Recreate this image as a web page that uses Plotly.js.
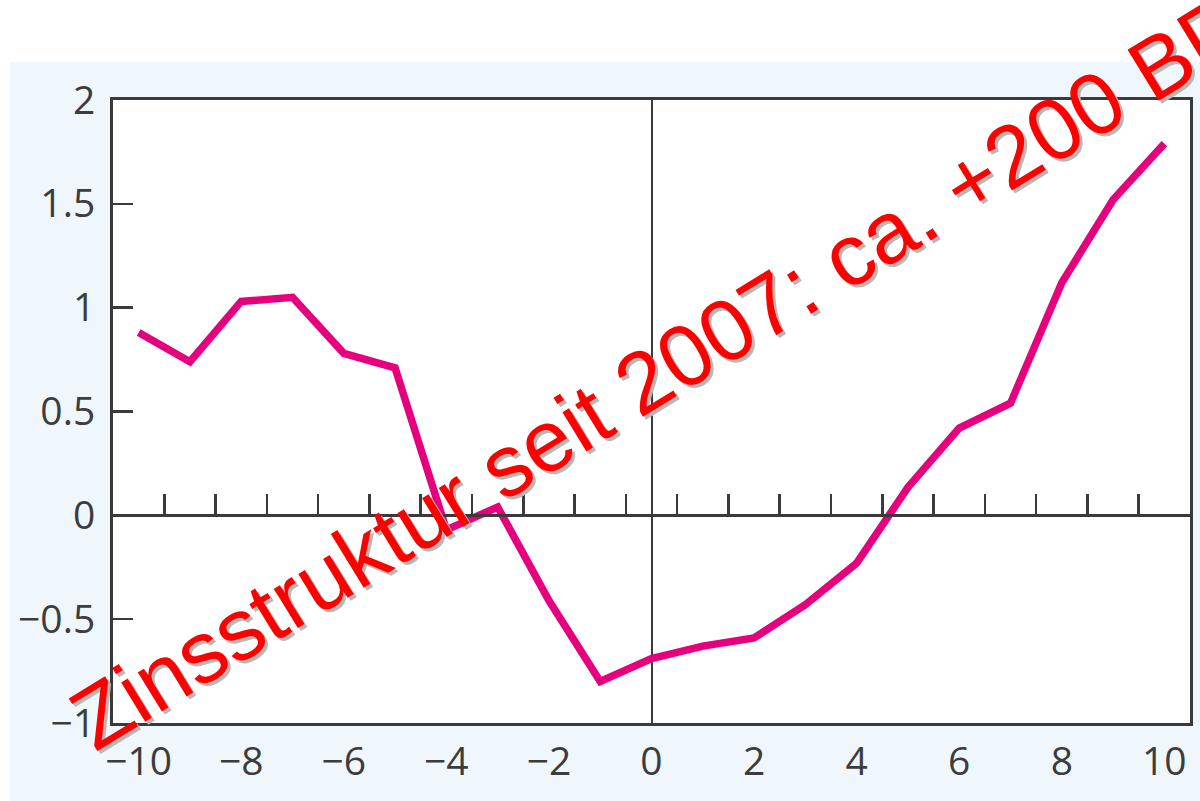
<!DOCTYPE html>
<html>
<head>
<meta charset="utf-8">
<script src="https://cdn.plot.ly/plotly-3.0.1.min.js"></script>
<style>html,body{margin:0;padding:0;background:#fff;}#chart{width:1200px;height:801px;}</style>
</head>
<body>
<div id="chart"></div>
<script>
var years = [-10,-9,-8,-7,-6,-5,-4,-3,-2,-1,0,1,2,3,4,5,6,7,8,9,10];
var values = [0.88,0.74,1.03,1.05,0.78,0.71,-0.07,0.04,-0.41,-0.80,-0.69,-0.63,-0.59,-0.43,-0.23,0.135,0.42,0.54,1.12,1.52,1.79];
var xTickVals = [-10,-8,-6,-4,-2,0,2,4,6,8,10];
var yTickVals = [-1,-0.5,0,0.5,1,1.5,2];
var yTickText = ['\u22121','\u22120.5','0','0.5','1','1.5','2'];
var xTickText = ['\u221210','\u22128','\u22126','\u22124','\u22122','0','2','4','6','8','10'];
var midTicks = [-9.5,-8.5,-7.5,-6.5,-5.5,-4.5,-3.5,-2.5,-1.5,-0.5,0.5,1.5,2.5,3.5,4.5,5.5,6.5,7.5,8.5,9.5];
var label = 'Zinsstruktur seit 2007: ca. +200 BP';

var frameColor = '#3a3a3a';
var tickFont = {family: 'Open Sans, Noto Sans, sans-serif', size: 39, color: '#3c3c3c'};

var traces = [
  {x: years, y: values, xaxis: 'x2', yaxis: 'y', mode: 'lines',
   line: {color: 'rgba(0,0,0,0)', width: 1}, hoverinfo: 'skip', showlegend: false},
  {x: years, y: values, xaxis: 'x', yaxis: 'y', mode: 'lines',
   line: {color: '#e6007e', width: 7.5}, showlegend: false}
];

var xr = [-10.5, 10.5];
var layout = {
  width: 1200, height: 801,
  margin: {l: 113, r: 10, t: 100, b: 78},
  paper_bgcolor: '#ffffff',
  plot_bgcolor: 'rgba(0,0,0,0)',
  showlegend: false,
  xaxis: {
    range: xr, tickvals: xTickVals, ticktext: xTickText, ticks: '',
    showgrid: false, zeroline: true, zerolinecolor: frameColor, zerolinewidth: 2,
    showline: true, mirror: true, linecolor: frameColor, linewidth: 3,
    tickfont: tickFont, ticklabelstandoff: 2
  },
  xaxis2: {
    range: xr, overlaying: 'x', anchor: 'free', position: 1/3, side: 'bottom',
    tickvals: midTicks, ticks: 'inside', ticklen: 20, tickwidth: 2.5, tickcolor: frameColor,
    showticklabels: false, showgrid: false, zeroline: false,
    showline: true, linecolor: frameColor, linewidth: 2.5
  },
  yaxis: {
    range: [-1, 2], tickvals: yTickVals, ticktext: yTickText,
    ticks: 'inside', ticklen: 20, tickwidth: 2.5, tickcolor: frameColor,
    showgrid: false, zeroline: false,
    showline: true, mirror: true, linecolor: frameColor, linewidth: 3,
    tickfont: tickFont, ticklabelstandoff: 7
  },
  shapes: [
    {type: 'rect', xref: 'paper', yref: 'paper', x0: -0.0956, x1: 1.0093, y0: -0.126, y1: 1.061,
     fillcolor: '#eff7fd', line: {width: 0}, layer: 'below'},
    {type: 'rect', xref: 'paper', yref: 'paper', x0: 0, x1: 1, y0: 0, y1: 1,
     fillcolor: '#ffffff', line: {width: 0}, layer: 'below'}
  ],
  annotations: [
    {x: 0.1, y: 0.69, xref: 'x', yref: 'y', text: label, showarrow: false,
     textangle: -31.5, xanchor: 'center', yanchor: 'middle', xshift: 3, yshift: -3,
     font: {family: 'Liberation Sans, Arial, sans-serif', size: 87, color: '#b8b8b8'}},
    {x: 0.1, y: 0.69, xref: 'x', yref: 'y', text: label, showarrow: false,
     textangle: -31.5, xanchor: 'center', yanchor: 'middle',
     font: {family: 'Liberation Sans, Arial, sans-serif', size: 87, color: '#ff0000'}}
  ]
};

Plotly.newPlot('chart', traces, layout, {displayModeBar: false, staticPlot: true});
</script>
</body>
</html>
